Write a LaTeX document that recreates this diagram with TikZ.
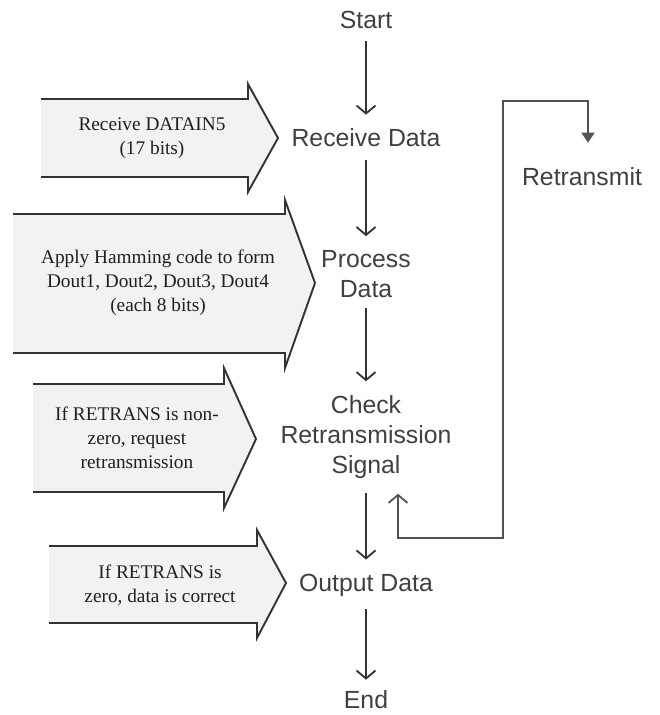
\documentclass[tikz,border=0pt]{standalone}
\usepackage{fontspec}
\setmainfont{Liberation Serif}
\setsansfont{Liberation Sans}
\usetikzlibrary{arrows.meta}
\definecolor{txt}{HTML}{404040}
\definecolor{ln}{HTML}{333333}
\definecolor{afill}{HTML}{F2F2F2}
\begin{document}
\begin{tikzpicture}[x=1pt,y=-1pt,
  flow/.style={font=\sffamily\fontsize{24.8}{30}\selectfont, text=txt, align=center, inner sep=0pt},
  note/.style={font=\rmfamily\fontsize{19.3}{24}\selectfont, text=black!88, align=center, inner sep=0pt},
  conn/.style={draw=ln, line width=1.8pt, -{Straight Barb[length=8pt,width=19pt,line width=1.8pt]}},
  fb/.style={draw=ln!85, line width=1.8pt, {Straight Barb[length=8pt,width=19pt,line width=1.8pt]}-{Triangle[length=10pt,width=13pt]}},
  bigarrow/.style={fill=afill},
  bigline/.style={draw=ln, line width=1.9pt, line join=miter}]
\useasboundingbox (0,0) rectangle (660,715);
% big arrows
\fill[bigarrow] (41,99) -- (248,99) -- (248,84) -- (278,138) -- (248,192) -- (248,177) -- (41,177) -- cycle;
\draw[bigline] (41,99) -- (248,99) -- (248,84) -- (278,138) -- (248,192) -- (248,177) -- (41,177);
\fill[bigarrow] (13,214) -- (285,214) -- (285,200) -- (315,283) -- (285,368) -- (285,353) -- (13,353) -- cycle;
\draw[bigline] (13,214) -- (285,214) -- (285,200) -- (315,283) -- (285,368) -- (285,353) -- (13,353);
\fill[bigarrow] (33,384) -- (224,384) -- (224,368) -- (256,439) -- (224,508) -- (224,492) -- (33,492) -- cycle;
\draw[bigline] (33,384) -- (224,384) -- (224,368) -- (256,439) -- (224,508) -- (224,492) -- (33,492);
\fill[bigarrow] (49,546) -- (257,546) -- (257,530) -- (286,583) -- (257,638) -- (257,623) -- (49,623) -- cycle;
\draw[bigline] (49,546) -- (257,546) -- (257,530) -- (286,583) -- (257,638) -- (257,623) -- (49,623);
% notes
\node[note] (n1) at (152,138) {Receive DATAIN5\\(17 bits)};
\node[note] (n2) at (158,283) {Apply Hamming code to form\\Dout1, Dout2, Dout3, Dout4\\(each 8 bits)};
\node[note] (n3) at (137,438) {If RETRANS is non-\\zero, request\\retransmission};
\node[note] (n4) at (160,585) {If RETRANS is\\zero, data is correct};
% flow nodes
\node[flow] (start) at (366,20) {Start};
\node[flow] (recv) at (366,138) {Receive Data};
\node[flow] (proc) at (366,274) {Process\\Data};
\node[flow] (check) at (366,437) {Check\\Retransmission\\Signal};
\node[flow] (out) at (366,585) {Output Data};
\node[flow] (end) at (366,700) {End};
\node[flow] (retx) at (582,177) {Retransmit};
% connectors
\draw[conn, shorten <=12pt, shorten >=14pt] (start) -- (recv);
\draw[conn, shorten <=13pt, shorten >=14pt] (recv) -- (proc);
\draw[conn, shorten <=10pt, shorten >=14pt] (proc) -- (check);
\draw[conn, shorten <=14pt, shorten >=14pt] (check) -- (out);
\draw[conn, shorten <=13pt, shorten >=11pt] (out) -- (end);
\coordinate (c1) at (398,538);
\coordinate (c2) at (503,538);
\coordinate (c3) at (503,101);
\coordinate (c4) at (588,101);
\draw[fb, shorten <=15pt, shorten >=25pt] (check.south -| c1) -- (c1) -- (c2) -- (c3) -- (c4) -- (retx.north -| c4);
\end{tikzpicture}
\end{document}
